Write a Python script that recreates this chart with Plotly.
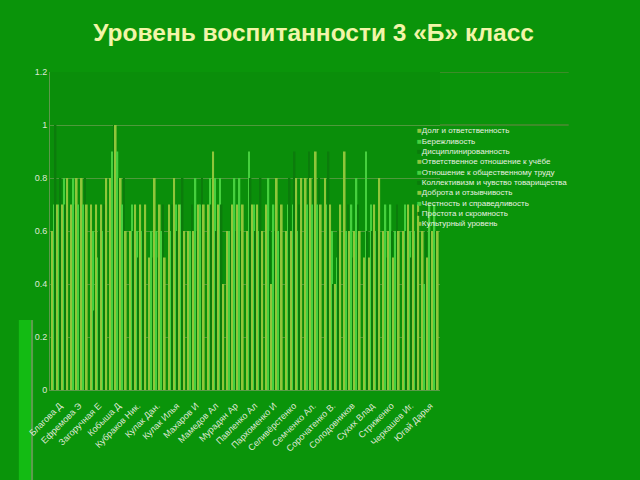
import plotly.graph_objects as go

students = ["Благова Д", "Ефремова Э", "Загоручная Е", "Кобыша Д", "Кубраков Ник.",
            "Кулак Дан.", "Кулак Илья", "Махаров И", "Мамедов Ал", "Мурадян Ар",
            "Павленко Ал", "Пархоменко И", "Селивёрстенко", "Семченко Ал.", "Сорочатенко В.",
            "Солодовников", "Сухих Влад", "Стриженко", "Черкашев Иг.", "Югай Дарья"]

series_names = ["Долг и ответственность", "Бережливость", "Дисциплинированность",
                "Ответственное отношение к учёбе", "Отношение к общественному труду",
                "Коллективизм и чувство товарищества", "Доброта и отзывчивость",
                "Честность и справедливость", "Простота и скромность", "Культурный уровень"]

dolg       = [0.6, 0.7, 0.7, 0.8, 0.6, 0.5, 0.7, 0.6, 0.7, 0.6, 0.6, 0.7, 0.6, 0.8, 0.8, 0.9, 0.5, 0.6, 0.6, 0.6]
berezh     = [0.7, 0.8, 0.6, 0.9, 0.7, 0.6, 0.6, 0.6, 0.8, 0.6, 0.9, 0.8, 0.7, 0.7, 0.7, 0.6, 0.9, 0.7, 0.7, 0.4]
discipl    = [1.0, 0.7, 0.3, 1.0, 0.6, 0.5, 0.7, 0.7, 0.7, 0.7, 0.8, 0.6, 0.8, 0.9, 0.9, 0.7, 0.6, 0.5, 0.6, 0.6]
ucheba     = [0.7, 0.8, 0.7, 1.0, 0.7, 0.8, 0.8, 0.6, 0.9, 0.7, 0.7, 0.4, 0.6, 0.8, 0.7, 0.6, 0.5, 0.6, 0.7, 0.5]
trud       = [0.7, 0.7, 0.5, 0.9, 0.6, 0.6, 0.7, 0.8, 0.8, 0.8, 0.7, 0.7, 0.7, 0.7, 0.6, 0.7, 0.7, 0.7, 0.6, 0.7]
kollekt    = [0.8, 0.7, 0.6, 0.8, 0.5, 0.5, 0.6, 0.6, 0.6, 0.6, 0.6, 0.6, 0.9, 0.8, 0.4, 0.5, 0.6, 0.6, 0.5, 0.6]
dobrota    = [0.7, 0.8, 0.7, 0.8, 0.7, 0.7, 0.7, 0.7, 0.7, 0.7, 0.7, 0.8, 0.8, 0.9, 0.4, 0.6, 0.7, 0.5, 0.7, 0.6]
chestnost  = [0.8, 0.7, 0.6, 0.7, 0.6, 0.6, 0.7, 0.7, 0.8, 0.8, 0.6, 0.6, 0.6, 0.7, 0.5, 0.8, 0.6, 0.6, 0.6, 0.7]
prostota   = [0.7, 0.8, 0.7, 0.8, 0.6, 0.7, 0.8, 0.8, 0.7, 0.6, 0.8, 0.7, 0.7, 0.8, 0.6, 0.7, 0.6, 0.7, 0.6, 0.6]
kultura    = [0.8, 0.7, 0.8, 0.6, 0.7, 0.5, 0.6, 0.7, 0.4, 0.7, 0.6, 0.7, 0.8, 0.7, 0.7, 0.6, 0.8, 0.6, 0.7, 0.6]

values = [dolg, berezh, discipl, ucheba, trud, kollekt, dobrota, chestnost, prostota, kultura]
palette = ["#8fc63a", "#46d03e", "#0b7c0b"]
colors = [palette[i % 3] for i in range(len(series_names))]

fig = go.Figure()
for name, vals, col in zip(series_names, values, colors):
    fig.add_trace(go.Bar(x=students, y=vals, name=name, marker_color=col,
                         marker_line_width=0, showlegend=False))

# background decorations
shapes = [
    dict(type="rect", xref="paper", yref="paper", x0=-0.08, x1=-0.046, y0=-0.32, y1=0.22,
         fillcolor="#13bb13", line_width=0, layer="below"),
    dict(type="line", xref="paper", yref="paper", x0=-0.046, x1=-0.046, y0=-0.32, y1=0.22,
         line=dict(color="#5f9c4f", width=2), layer="below"),
]
for yv in [1.0, 1.2]:
    shapes.append(dict(type="line", xref="paper", yref="y", x0=1.0, x1=1.33, y0=yv, y1=yv,
                       line=dict(color="#4f8a35", width=1.5), layer="below"))

# legend drawn as annotations
annotations = []
for i, (name, col) in enumerate(zip(series_names, colors)):
    annotations.append(dict(
        xref="paper", yref="paper", x=0.935, y=0.815 - i * 0.0325,
        xanchor="left", yanchor="middle", showarrow=False,
        text=f"<span style='color:{col}'>■</span>{name}",
        font=dict(family="Liberation Sans, Arial, sans-serif", size=8, color="#e8f0e0"),
    ))

fig.update_layout(
    width=640, height=480,
    margin=dict(l=50, r=200, t=72, b=90),
    paper_bgcolor="#0a940a",
    plot_bgcolor="#0a8e0a",
    barmode="group", bargap=0.14, bargroupgap=0,
    title=dict(text="<b>Уровень воспитанности 3 «Б» класс</b>", x=0.49, xanchor="center",
               y=0.932, yanchor="middle",
               font=dict(family="Liberation Sans, Arial, sans-serif", size=24.5, color="#f2f5a8")),
    font=dict(family="Liberation Sans, Arial, sans-serif", size=9, color="#dfe8d5"),
    shapes=shapes,
    annotations=annotations,
    showlegend=False,
)
fig.update_yaxes(range=[0, 1.2], dtick=0.2, tickformat="~g", gridcolor="#4f9a3c", gridwidth=1,
                 showline=True, linecolor="#5c9a4a", zeroline=False, ticks="",
                 tickfont=dict(size=9, color="#dfe8d5"))
fig.update_xaxes(tickangle=-45, showline=True, linecolor="#5c9a4a", ticks="",
                 ticklabelstandoff=6,
                 tickfont=dict(size=9, color="#dfe8d5"))

fig.write_html("out.html")
